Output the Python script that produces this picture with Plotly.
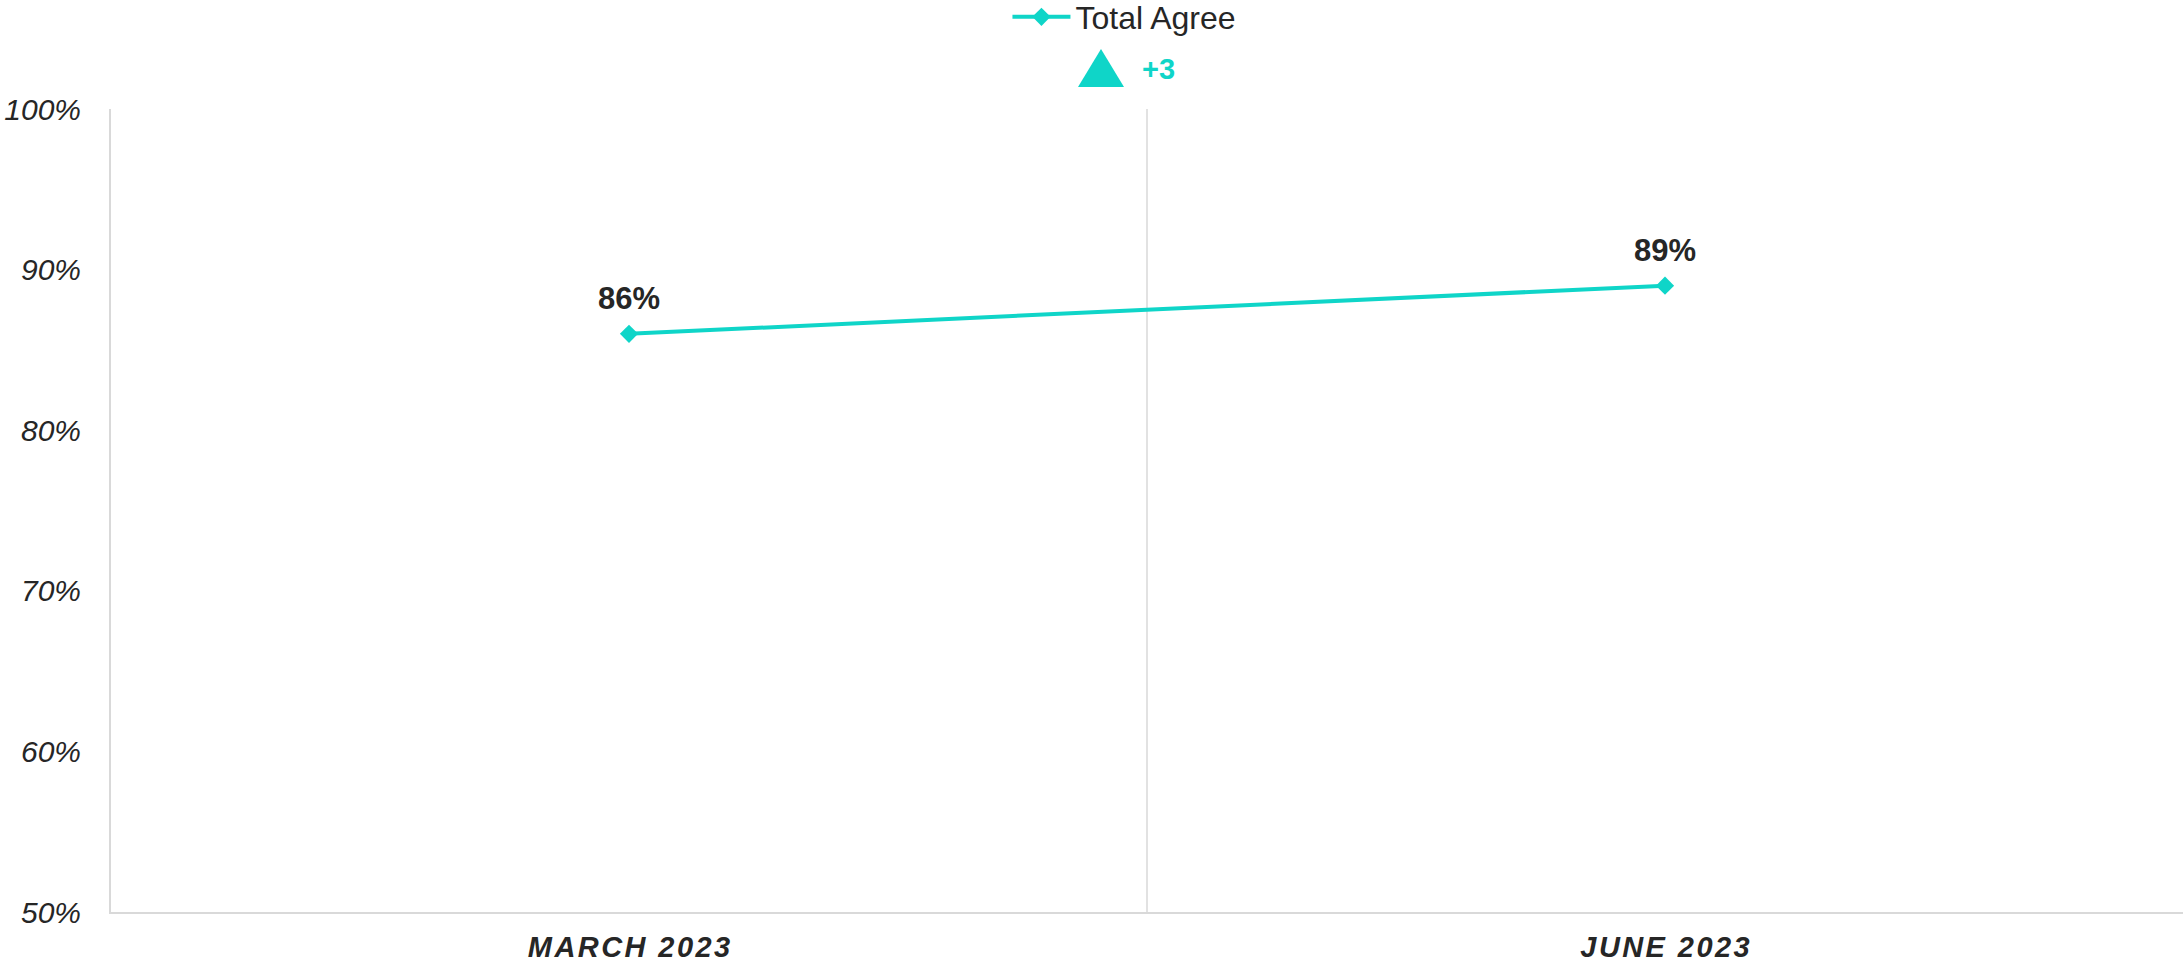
import plotly.graph_objects as go

# Survey waves and share of respondents who agree (%)
periods = ["MARCH 2023", "JUNE 2023"]
total_agree = [86, 89]
series_name = "Total Agree"

y_ticks = [50, 60, 70, 80, 90, 100]

TEAL = "#0fd5c8"
INK = "#262626"
RULE = "#d9d9d9"
FONT = "Liberation Sans, Arial"


def spaced(label, gap="\u200a"):
    # widen the category labels with hair spaces between glyphs
    return gap.join(label)


x_idx = list(range(len(periods)))
change = total_agree[-1] - total_agree[0]

fig = go.Figure()
fig.add_trace(
    go.Scatter(
        x=x_idx,
        y=total_agree,
        name=series_name,
        mode="lines+markers",
        line=dict(color=TEAL, width=4),
        marker=dict(symbol="diamond", size=14, color=TEAL),
        cliponaxis=False,
    )
)

# value labels above each point
for xi, v in zip(x_idx, total_agree):
    fig.add_annotation(
        x=xi, y=v, xref="x", yref="y",
        text=f"<b>{v}%</b>", showarrow=False,
        yanchor="bottom", yshift=16,
        font=dict(family=FONT, size=31, color=INK),
    )

# light divider between the two waves
for i in range(len(periods) - 1):
    fig.add_shape(
        type="line", xref="x", yref="paper",
        x0=i + 0.5, x1=i + 0.5, y0=0, y1=1,
        line=dict(color=RULE, width=1.5), layer="below",
    )

# change indicator above the plot
fig.add_shape(
    type="path", xref="paper", yref="paper",
    xsizemode="pixel", ysizemode="pixel",
    xanchor=0.4778, yanchor=1,
    path="M -23,22 L 23,22 L 0,60 Z",
    fillcolor=TEAL, line=dict(width=0),
)
fig.add_annotation(
    xref="paper", yref="paper", x=0.4965, y=1, yshift=40,
    xanchor="left", yanchor="middle",
    text=f"<b>{change:+d}</b>", showarrow=False,
    font=dict(family=FONT, size=29, color=TEAL),
)

fig.update_layout(
    width=2183,
    height=963,
    margin=dict(l=111, r=0, t=109, b=48),
    paper_bgcolor="white",
    plot_bgcolor="white",
    font=dict(family=FONT, color=INK),
    showlegend=True,
    legend=dict(
        orientation="h",
        xref="container", yref="container",
        x=0.4615, y=0.9823, xanchor="left", yanchor="middle",
        itemwidth=58,
        font=dict(size=32, color=INK),
        bgcolor="rgba(0,0,0,0)",
    ),
    xaxis=dict(
        range=[-0.5, len(periods) - 0.5],
        tickmode="array",
        tickvals=x_idx,
        ticktext=[spaced(p) for p in periods],
        tickfont=dict(size=29, color=INK, weight="bold", style="italic"),
        showgrid=False,
        zeroline=False,
        showline=True,
        linecolor=RULE,
        linewidth=2,
        ticks="",
        ticklabelstandoff=8,
        fixedrange=True,
    ),
    yaxis=dict(
        range=[y_ticks[0], y_ticks[-1]],
        tickmode="array",
        tickvals=y_ticks,
        ticktext=[f"{t}%" for t in y_ticks],
        tickfont=dict(size=30, color=INK, style="italic"),
        showgrid=False,
        zeroline=False,
        showline=True,
        linecolor=RULE,
        linewidth=2,
        ticks="",
        ticklabelstandoff=22,
        fixedrange=True,
    ),
)

fig.write_html("out.html")
